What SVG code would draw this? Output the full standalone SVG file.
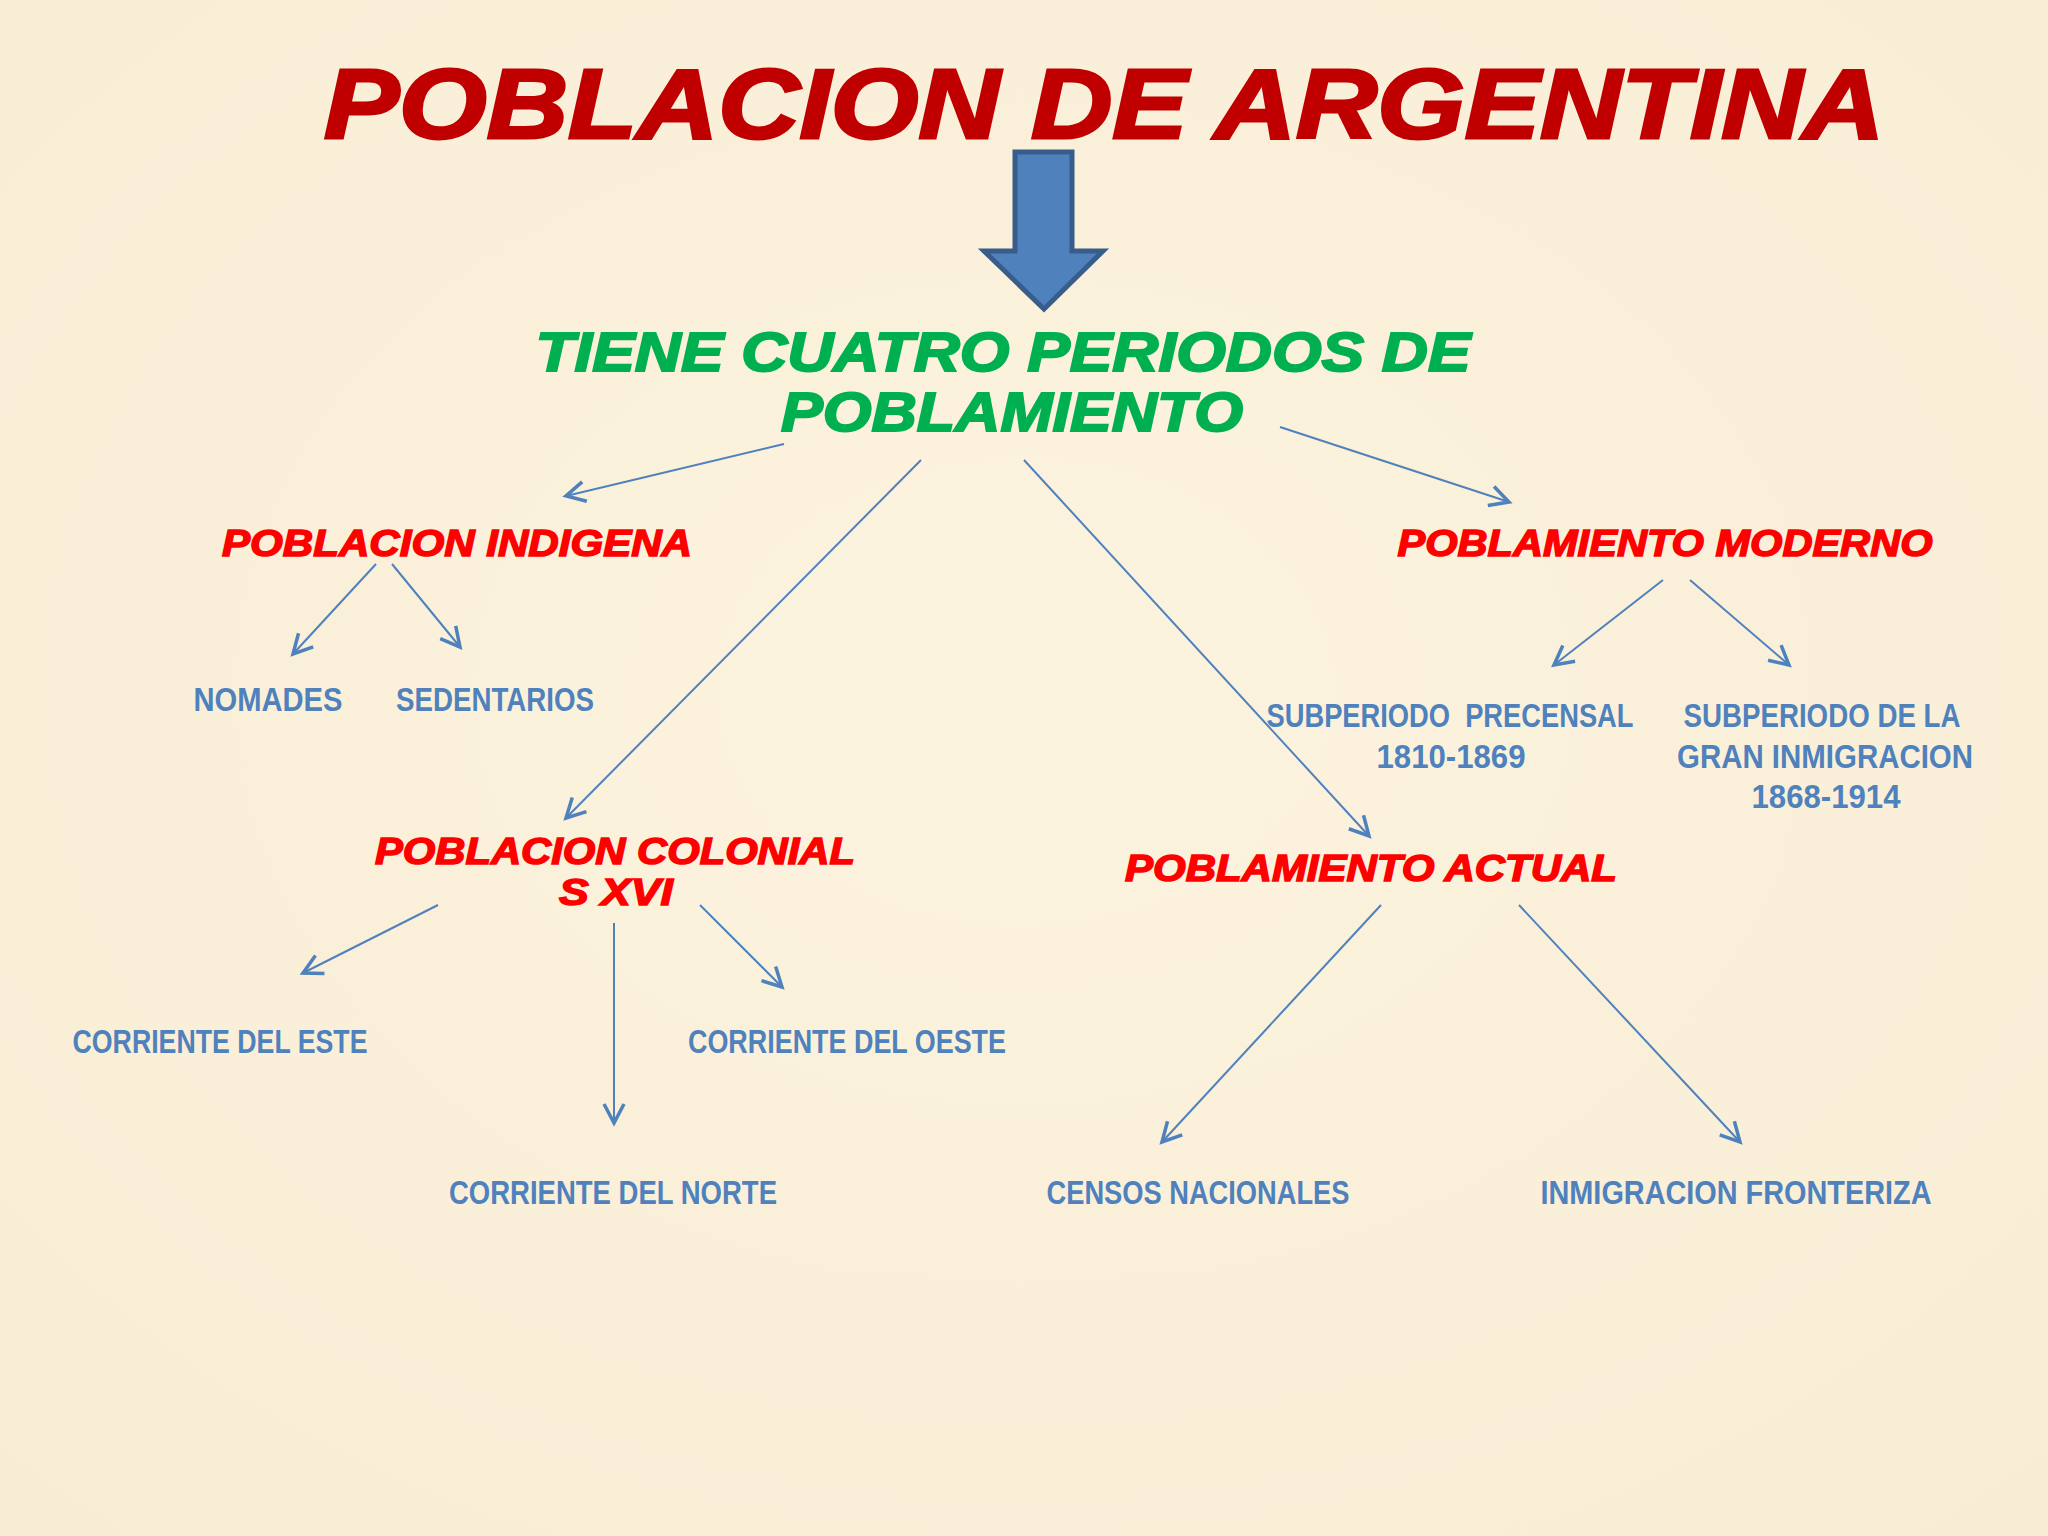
<svg xmlns="http://www.w3.org/2000/svg" width="2048" height="1536" viewBox="0 0 2048 1536">
<defs>
<style>
.title{font-family:"Liberation Sans",Arial,sans-serif;font-weight:bold;font-style:italic;fill:#C00000;stroke:#C00000;stroke-width:3;font-size:98px}
.green{font-family:"Liberation Sans",Arial,sans-serif;font-weight:bold;font-style:italic;fill:#00B050;stroke:#00B050;stroke-width:2;font-size:55px}
.head{font-family:"Liberation Sans",Arial,sans-serif;font-weight:bold;font-style:italic;fill:#FF0000;stroke:#FF0000;stroke-width:1.5;font-size:37px}
.lbl{font-family:"Liberation Sans",Arial,sans-serif;font-weight:bold;fill:#4F81BD;font-size:33px;white-space:pre}
.conn line{stroke:#4F81BD;stroke-width:2;fill:none;marker-end:url(#arr)}
</style>
<marker id="arr" markerUnits="userSpaceOnUse" markerWidth="26" markerHeight="26" viewBox="0 0 26 26" refX="22" refY="13" orient="auto">
<path d="M3,3 L22,13 L3,23" fill="none" stroke="#4F81BD" stroke-width="3.5"/>
</marker>
<radialGradient id="bg" cx="50%" cy="45%" r="75%">
<stop offset="0" stop-color="#FCF3DF"/>
<stop offset="1" stop-color="#F8EDD4"/>
</radialGradient>
</defs>
<rect width="2048" height="1536" fill="url(#bg)"/>

<g id="title"><text class="title" x="1104" y="138" text-anchor="middle" textLength="1560" lengthAdjust="spacingAndGlyphs">POBLACION DE ARGENTINA</text></g>

<g id="bigarrow"><path d="M1015,152 L1072,152 L1072,251 L1103,251 L1044,309 L984,251 L1015,251 Z" fill="#4F81BD" stroke="#385D8A" stroke-width="5" stroke-linejoin="miter"/></g>

<g id="periodos">
<text class="green" x="1003" y="371" text-anchor="middle" textLength="935" lengthAdjust="spacingAndGlyphs">TIENE CUATRO PERIODOS DE</text>
<text class="green" x="1012" y="431" text-anchor="middle" textLength="462" lengthAdjust="spacingAndGlyphs">POBLAMIENTO</text>
</g>

<g id="indigena"><text class="head" x="457" y="556" text-anchor="middle" textLength="470" lengthAdjust="spacingAndGlyphs">POBLACION INDIGENA</text></g>
<g id="moderno"><text class="head" x="1665" y="556" text-anchor="middle" textLength="535" lengthAdjust="spacingAndGlyphs">POBLAMIENTO MODERNO</text></g>
<g id="colonial">
<text class="head" x="615" y="864" text-anchor="middle" textLength="480" lengthAdjust="spacingAndGlyphs">POBLACION COLONIAL</text>
<text class="head" x="616" y="905" text-anchor="middle" textLength="114" lengthAdjust="spacingAndGlyphs">S XVI</text>
</g>
<g id="actual"><text class="head" x="1371" y="881" text-anchor="middle" textLength="492" lengthAdjust="spacingAndGlyphs">POBLAMIENTO ACTUAL</text></g>

<g id="nomades"><text class="lbl" x="268" y="711" text-anchor="middle" textLength="149" lengthAdjust="spacingAndGlyphs">NOMADES</text></g>
<g id="sedentarios"><text class="lbl" x="495" y="711" text-anchor="middle" textLength="198" lengthAdjust="spacingAndGlyphs">SEDENTARIOS</text></g>
<g id="precensal">
<text class="lbl" x="1450" y="727" text-anchor="middle" textLength="367" lengthAdjust="spacingAndGlyphs" xml:space="preserve">SUBPERIODO  PRECENSAL</text>
<text class="lbl" x="1451" y="768" text-anchor="middle" textLength="149" lengthAdjust="spacingAndGlyphs">1810-1869</text>
</g>
<g id="gran">
<text class="lbl" x="1822" y="727" text-anchor="middle" textLength="277" lengthAdjust="spacingAndGlyphs">SUBPERIODO DE LA</text>
<text class="lbl" x="1825" y="768" text-anchor="middle" textLength="296" lengthAdjust="spacingAndGlyphs">GRAN INMIGRACION</text>
<text class="lbl" x="1826" y="808" text-anchor="middle" textLength="149" lengthAdjust="spacingAndGlyphs">1868-1914</text>
</g>
<g id="este"><text class="lbl" x="220" y="1053" text-anchor="middle" textLength="295" lengthAdjust="spacingAndGlyphs">CORRIENTE DEL ESTE</text></g>
<g id="oeste"><text class="lbl" x="847" y="1053" text-anchor="middle" textLength="318" lengthAdjust="spacingAndGlyphs">CORRIENTE DEL OESTE</text></g>
<g id="norte"><text class="lbl" x="613" y="1204" text-anchor="middle" textLength="328" lengthAdjust="spacingAndGlyphs">CORRIENTE DEL NORTE</text></g>
<g id="censos"><text class="lbl" x="1198" y="1204" text-anchor="middle" textLength="303" lengthAdjust="spacingAndGlyphs">CENSOS NACIONALES</text></g>
<g id="fronteriza"><text class="lbl" x="1736" y="1204" text-anchor="middle" textLength="391" lengthAdjust="spacingAndGlyphs">INMIGRACION FRONTERIZA</text></g>

<g id="connectors" class="conn">
<line x1="784" y1="444" x2="566" y2="496"/>
<line x1="921" y1="460" x2="566" y2="818"/>
<line x1="1024" y1="460" x2="1369" y2="836"/>
<line x1="1280" y1="427" x2="1509" y2="502"/>
<line x1="376" y1="564" x2="293" y2="654"/>
<line x1="392" y1="564" x2="460" y2="647"/>
<line x1="1663" y1="580" x2="1554" y2="665"/>
<line x1="1690" y1="580" x2="1789" y2="665"/>
<line x1="438" y1="905" x2="303" y2="973"/>
<line x1="614" y1="923" x2="614" y2="1123"/>
<line x1="700" y1="905" x2="782" y2="987"/>
<line x1="1381" y1="905" x2="1162" y2="1142"/>
<line x1="1519" y1="905" x2="1740" y2="1142"/>
</g>
</svg>
